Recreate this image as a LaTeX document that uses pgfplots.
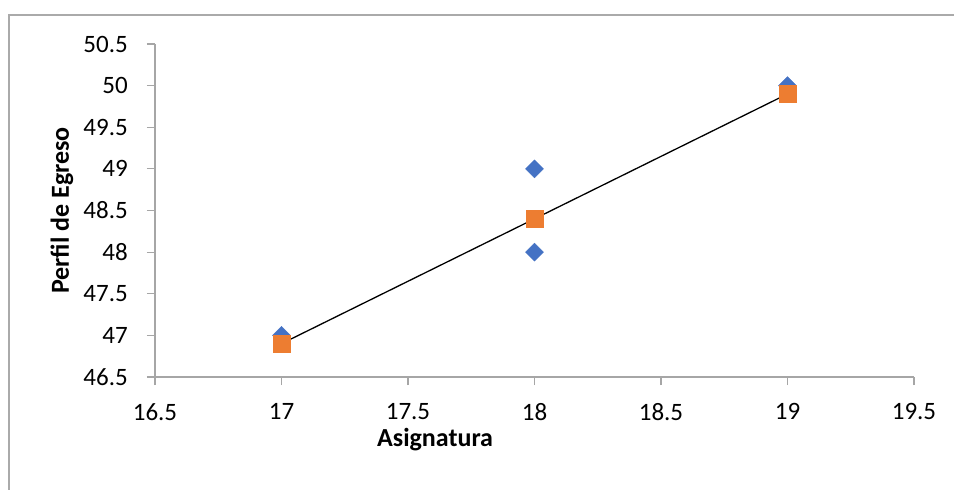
\documentclass[border=0pt]{standalone}
\usepackage{pgfplots}
\pgfplotsset{compat=1.18}
\usepackage{fontspec}
\setmainfont{Carlito}
\definecolor{axgray}{RGB}{166,166,166}
\definecolor{borderg}{RGB}{170,170,170}
\definecolor{blueM}{RGB}{68,114,196}
\definecolor{orangeM}{RGB}{237,125,49}
\begin{document}
\begin{tikzpicture}
\path[use as bounding box] (-155bp,-113bp) rectangle (799bp,377bp);
\fill[white] (-155bp,-113bp) rectangle (799bp,377bp);
\draw[borderg, line width=1.6bp] (-146bp,-120bp) -- (-146bp,362bp) -- (805bp,362bp);
\begin{axis}[
  at={(0,0)}, anchor=south west,
  scale only axis, width=759bp, height=333bp,
  xmin=16.5, xmax=19.5, ymin=46.5, ymax=50.5,
  xtick={16.5,17,17.5,18,18.5,19,19.5},
  ytick={46.5,47,47.5,48,48.5,49,49.5,50,50.5},
  axis x line=bottom, axis y line=left,
  axis line style={-, draw=axgray, line width=1.2bp},
  tick align=outside, major tick length=8bp,
  tick style={draw=axgray, line width=1.2bp},
  /pgf/number format/assume math mode=true,
  tick label style={font=\fontsize{25bp}{29bp}\selectfont, inner sep=0pt},
  xticklabel style={anchor=north, yshift=-18bp},
  yticklabel style={anchor=east, xshift=-19bp},
  xlabel={\textbf{Asignatura}},
  ylabel={\textbf{Perfil de Egreso}},
  label style={font=\fontsize{26bp}{30bp}\selectfont, inner sep=0pt},
  xlabel style={at={(axis description cs:0.369,0)}, anchor=center, yshift=-63bp},
  ylabel style={at={(axis description cs:0,0.5)}, anchor=center, yshift=93bp},
  clip=false,
]
\addplot[only marks, mark=diamond*, mark size=9bp, mark options={xscale=1.333, fill=blueM, draw=blueM}]
  coordinates {(17,47) (18,48) (18,49) (19,50)};
\addplot[only marks, mark=square*, mark size=8.5bp, mark options={fill=orangeM, draw=orangeM}]
  coordinates {(17,46.9) (18,48.4) (19,49.9)};
\addplot[black, line width=1.3bp, no marks] coordinates {(17,46.9) (19,49.9)};
\end{axis}
\end{tikzpicture}
\end{document}
